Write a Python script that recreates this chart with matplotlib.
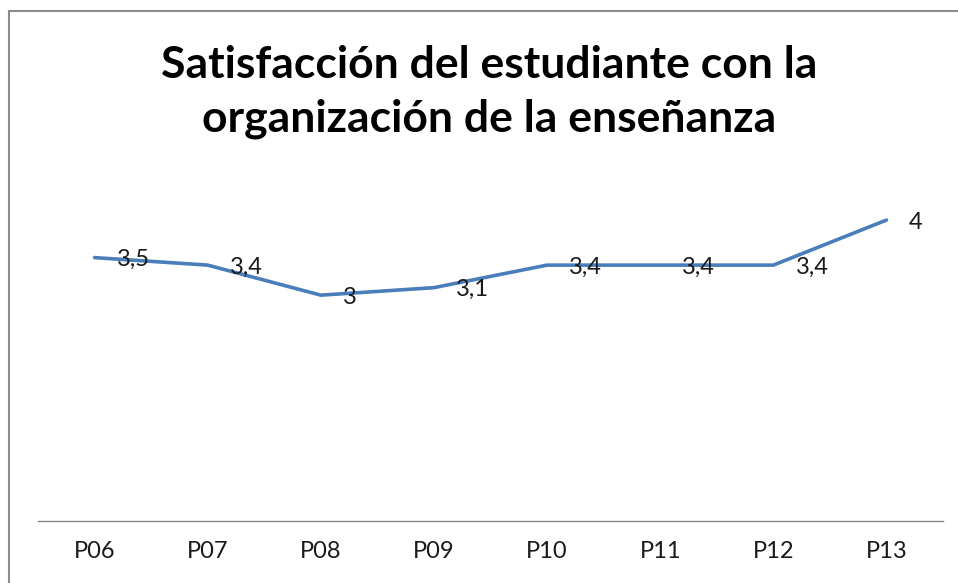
import matplotlib
matplotlib.use("Agg")
import matplotlib.pyplot as plt
from matplotlib.patches import Rectangle

categories = ["P06", "P07", "P08", "P09", "P10", "P11", "P12", "P13"]
values = [3.5, 3.4, 3.0, 3.1, 3.4, 3.4, 3.4, 4.0]
labels = ["3,5", "3,4", "3", "3,1", "3,4", "3,4", "3,4", "4"]
title = "Satisfacción del estudiante con la\norganización de la enseñanza"

plt.rcParams['font.family'] = ['Lato', 'DejaVu Sans']

W, H = 958, 583
fig = plt.figure(figsize=(W / 100, H / 100), dpi=100)

# outer chart border (Excel chart area)
fig.patches.append(Rectangle((8.5 / W, -0.1), 1.2, (H - 10.5) / H + 0.1,
                             transform=fig.transFigure, fill=False,
                             edgecolor="#8c8c8c", linewidth=1.5))

ax = fig.add_axes([38 / W, (H - 520.5) / H, (943 - 38) / W, (520.5 - 182.5) / H])
x = list(range(len(categories)))
ax.plot(x, values, color="#4A7EBB", linewidth=2.6, solid_capstyle="round",
        solid_joinstyle="round")
ax.set_xlim(-0.5, len(categories) - 0.5)
ax.set_ylim(0, 4.5)

for xi, v, lab in zip(x, values, labels):
    ax.annotate(lab, (xi, v), xytext=(16, -1.5), textcoords="offset points",
                ha="left", va="center", fontsize=17, color="#1a1a1a")

for s in ["top", "right", "left"]:
    ax.spines[s].set_visible(False)
ax.spines["bottom"].set_color("#868686")
ax.spines["bottom"].set_linewidth(1.0)
ax.set_yticks([])
ax.set_xticks(x)
ax.set_xticklabels(categories, fontsize=17, color="#1a1a1a")
ax.tick_params(axis="x", length=0, pad=15)
ax.patch.set_alpha(0)

fig.text(489 / W, 1 - 92 / H, title, ha="center", va="center",
         fontsize=32, fontweight="bold", linespacing=1.4, color="#000000")

fig.savefig("out.png", dpi=100, facecolor="white")
